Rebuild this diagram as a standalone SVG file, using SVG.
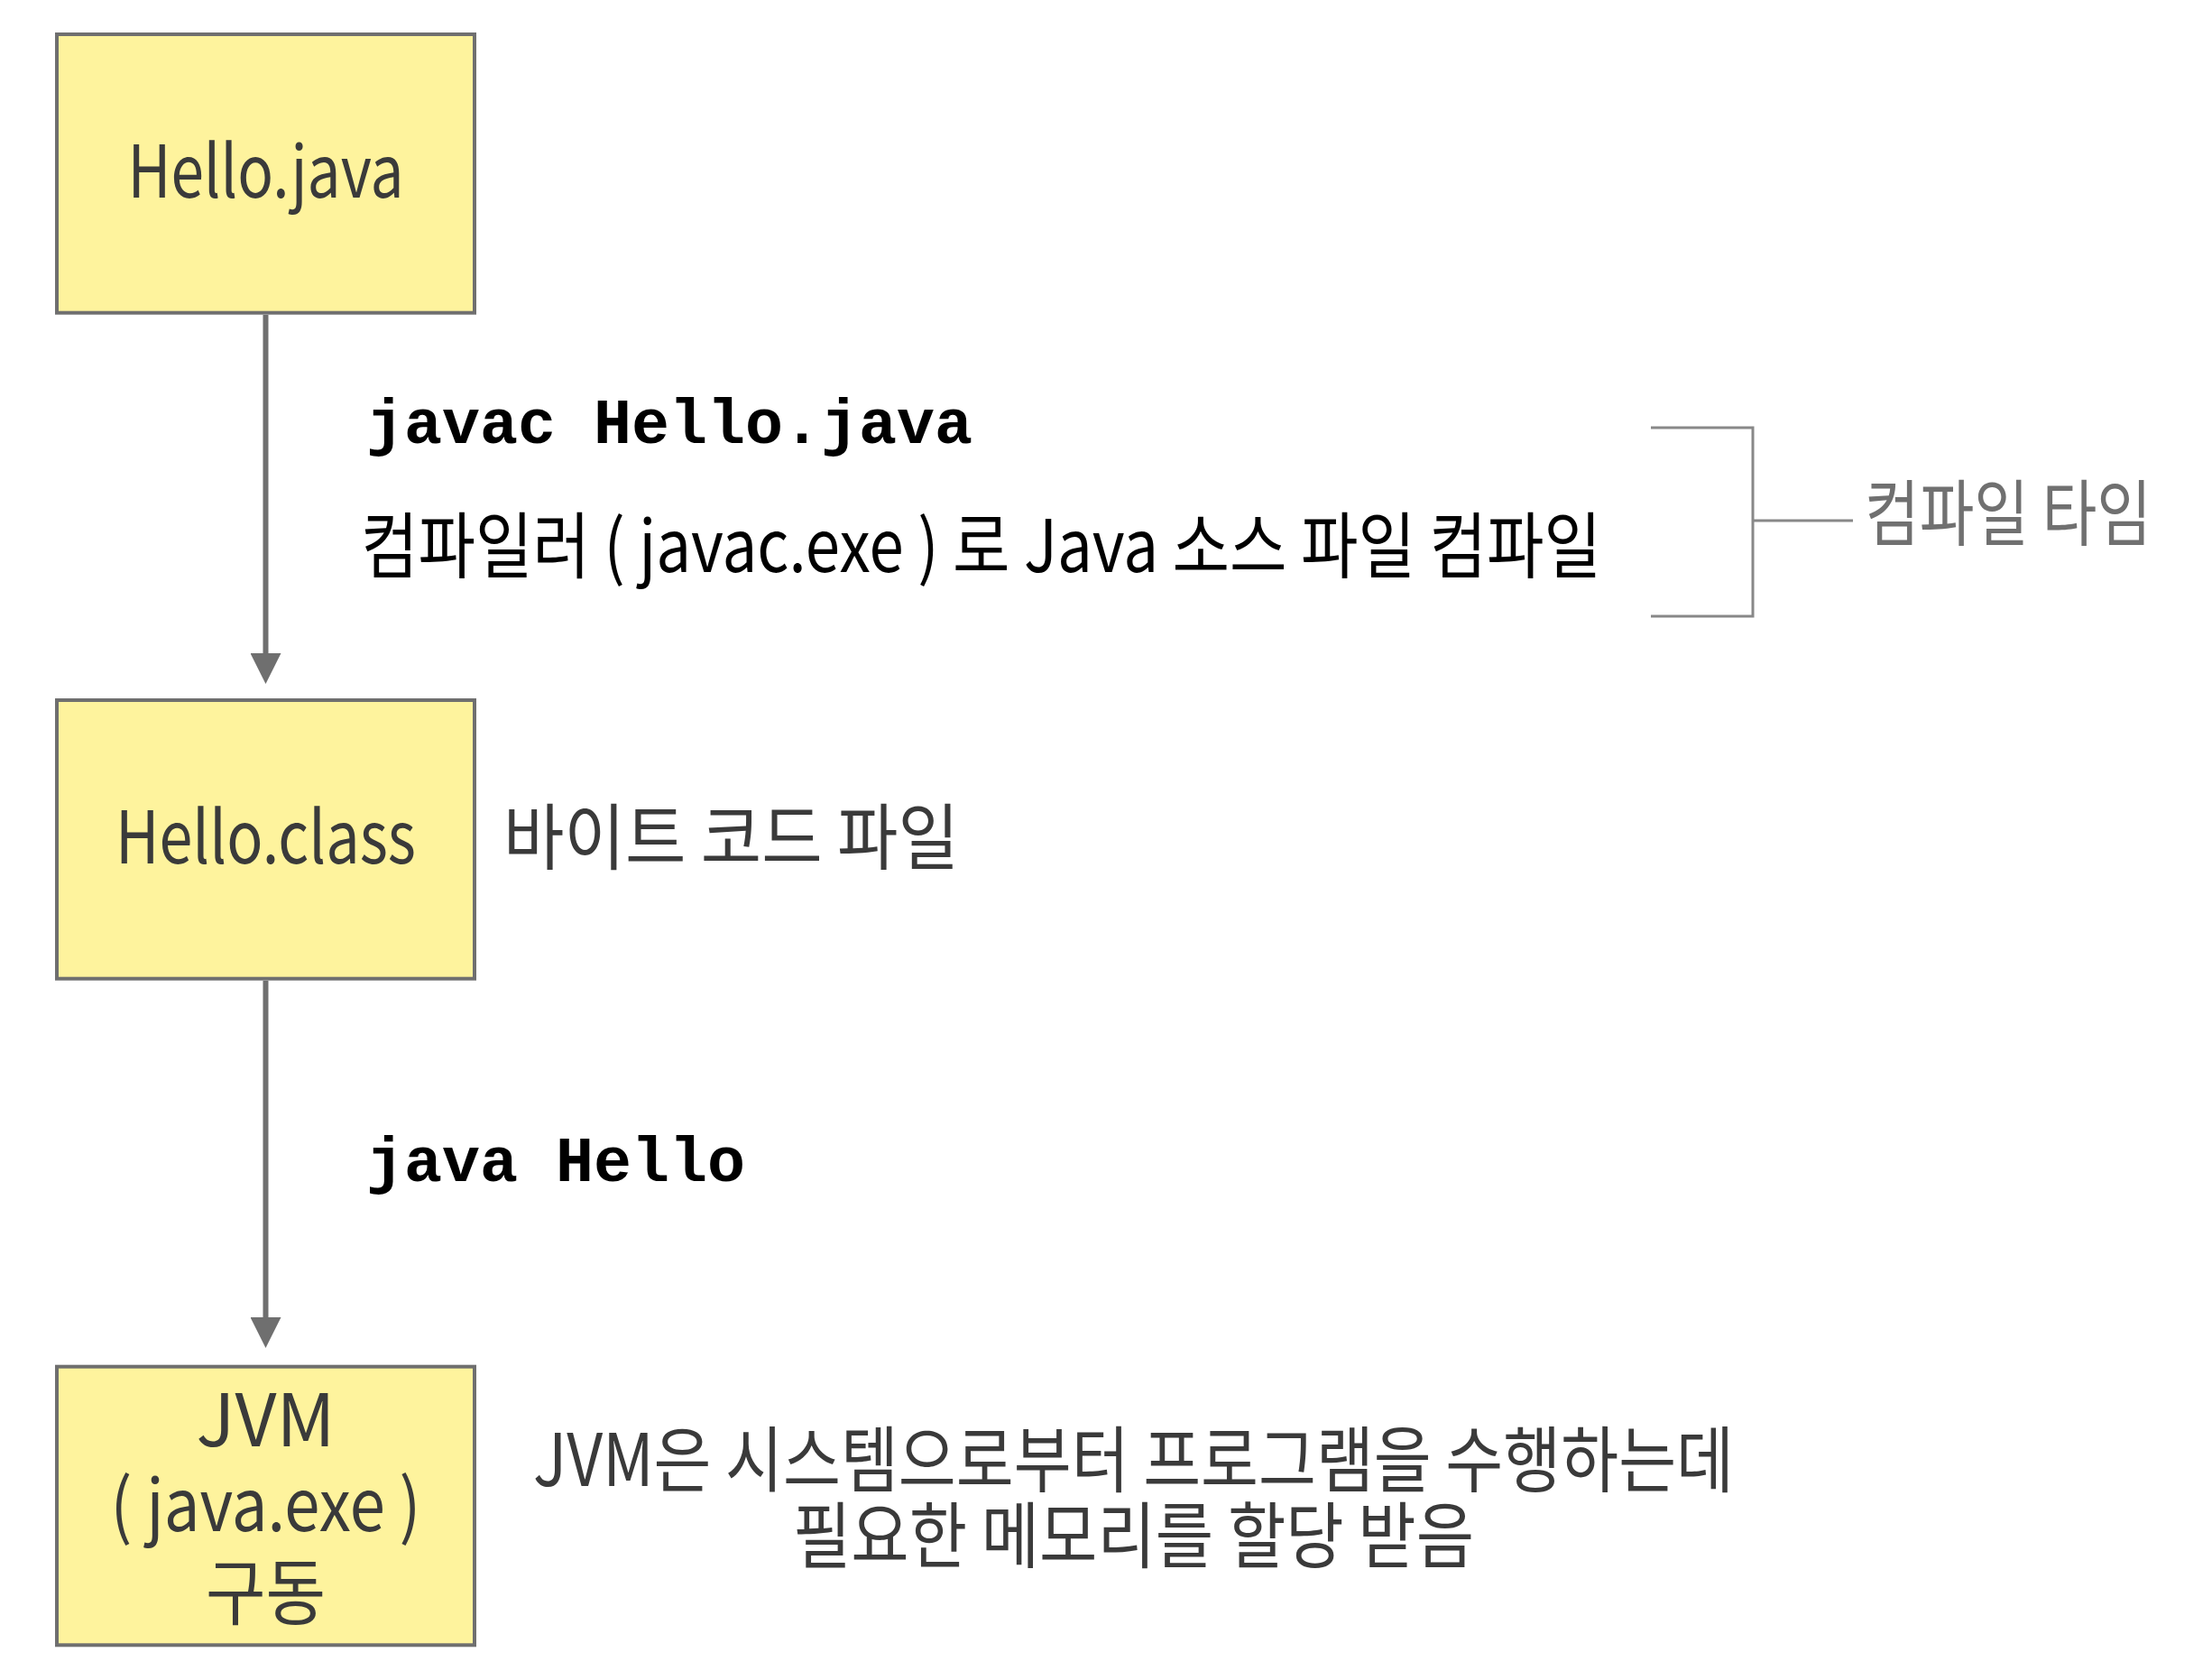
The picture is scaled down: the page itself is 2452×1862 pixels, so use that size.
<svg xmlns="http://www.w3.org/2000/svg" width="2452" height="1862" viewBox="0 0 2452 1862">
<style>
.box{fill:#fef39d;stroke:#6f6f6f;stroke-width:4}
.lbl{font-family:"Noto Sans CJK KR","Noto Sans",sans-serif;font-size:80px;fill:#3a3a3a}
.desc{font-family:"Noto Sans CJK KR","Noto Sans",sans-serif;font-size:80px;fill:#3a3a3a}
.cmd{font-family:"Liberation Mono","DejaVu Sans Mono",monospace;font-weight:bold;font-size:70px;fill:#000}
.conn{stroke:#6f6f6f;stroke-width:6;fill:none}
.brk{stroke:#888;stroke-width:3;fill:none}
</style>
<defs>
<marker id="ah" markerUnits="userSpaceOnUse" markerWidth="34" markerHeight="34" viewBox="0 0 34 34" refX="16" refY="17" orient="auto">
<path d="M0,0 L34,17 L0,34 z" fill="#6f6f6f"/>
</marker>
</defs>
<rect width="2452" height="1862" fill="#fff"/>
<g id="connectors">
<line class="conn" x1="294.5" y1="349" x2="294.5" y2="740" marker-end="url(#ah)"/>
<line class="conn" x1="294.5" y1="1087" x2="294.5" y2="1476" marker-end="url(#ah)"/>
<path class="brk" d="M1830,474 H1943 V683 H1830 M1943,577 H2054"/>
</g>
<g id="node-hello-java">
<rect class="box" x="63" y="38" width="463" height="308.7"/>
<text class="lbl" x="294.5" y="219" text-anchor="middle" textLength="306" lengthAdjust="spacingAndGlyphs">Hello.java</text>
</g>
<g id="node-hello-class">
<rect class="box" x="63" y="776" width="463" height="308.7"/>
<text class="lbl" x="294.5" y="957" text-anchor="middle" textLength="333" lengthAdjust="spacingAndGlyphs">Hello.class</text>
</g>
<g id="node-jvm">
<rect class="box" x="63" y="1514.7" width="463" height="308.6"/>
<text class="lbl" x="294.5" y="1603" text-anchor="middle">JVM</text>
<text class="lbl" x="294.5" y="1697" text-anchor="middle" textLength="344" lengthAdjust="spacingAndGlyphs">( java.exe )</text>
<text class="lbl" x="294.5" y="1794" text-anchor="middle" textLength="133" lengthAdjust="spacingAndGlyphs">구동</text>
</g>
<g id="labels">
<text class="cmd" x="406" y="491">javac Hello.java</text>
<text class="desc" x="400" y="634" style="fill:#000" textLength="1375" lengthAdjust="spacingAndGlyphs">컴파일러 ( javac.exe ) 로 Java 소스 파일 컴파일</text>
<text class="desc" x="558" y="957" textLength="505" lengthAdjust="spacingAndGlyphs">바이트 코드 파일</text>
<text class="cmd" x="406" y="1309">java Hello</text>
<text class="desc" x="591" y="1647" textLength="1331" lengthAdjust="spacingAndGlyphs">JVM은 시스템으로부터 프로그램을 수행하는데</text>
<text class="desc" x="879" y="1731" textLength="755" lengthAdjust="spacingAndGlyphs">필요한 메모리를 할당 받음</text>
<text class="desc" x="2067" y="598" style="fill:#707070" textLength="318" lengthAdjust="spacingAndGlyphs">컴파일 타임</text>
</g>
</svg>
